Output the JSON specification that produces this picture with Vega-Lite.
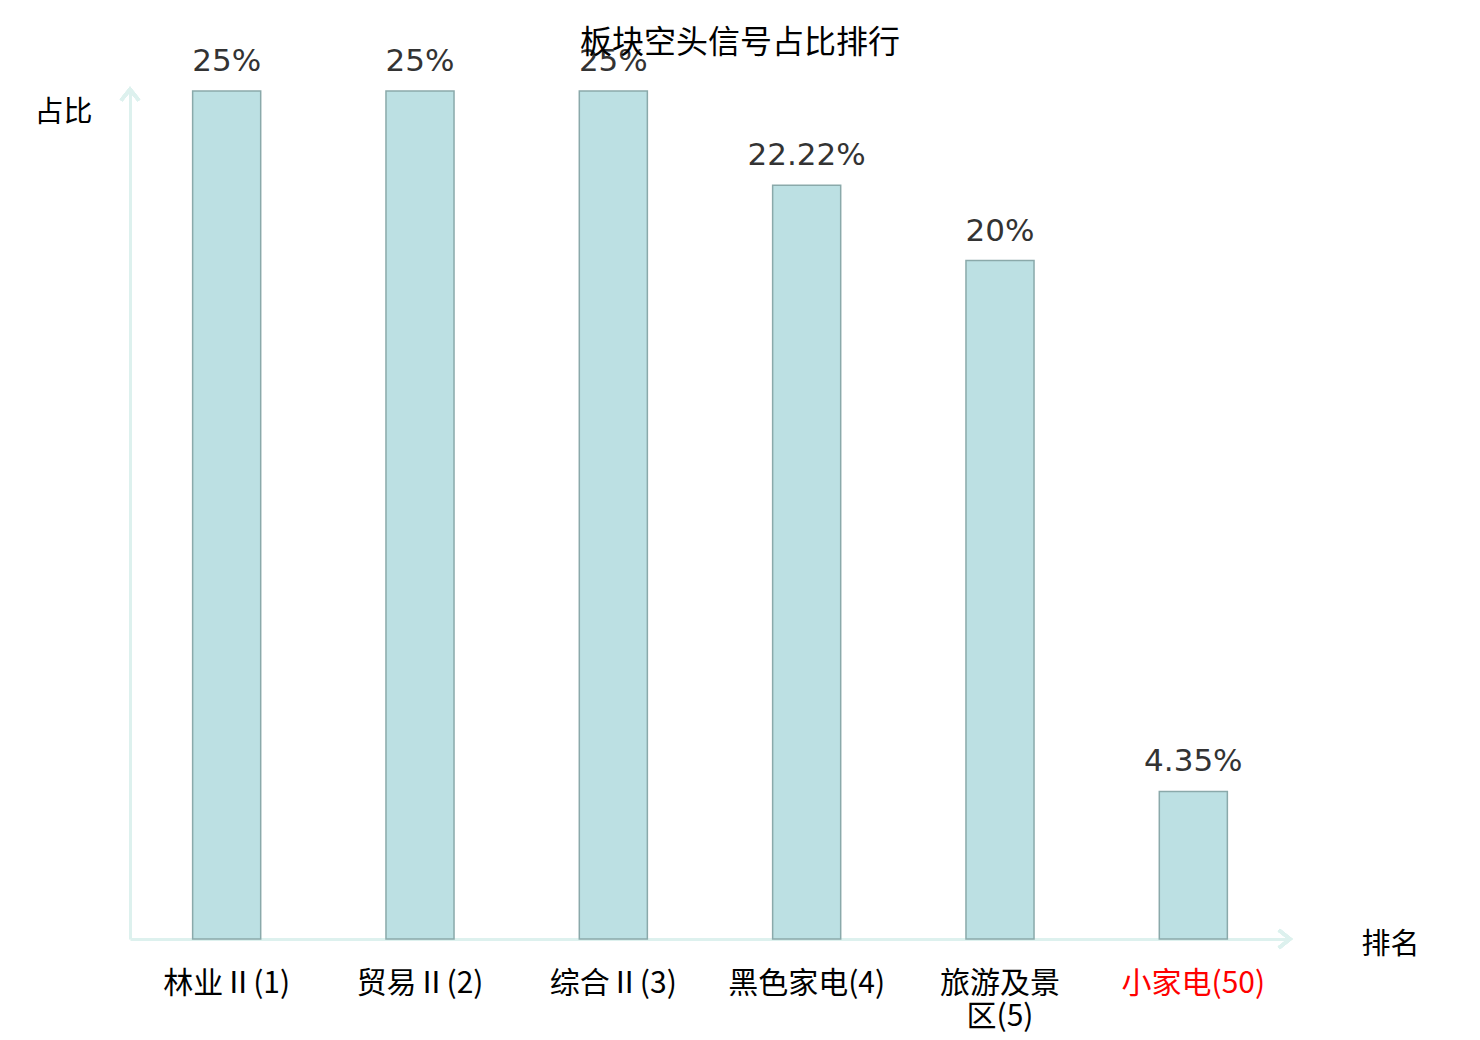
{
  "$schema": "https://vega.github.io/schema/vega-lite/v6.json",
  "autosize": "none",
  "width": 1160,
  "height": 848,
  "padding": {"left": 130, "top": 91, "right": 190, "bottom": 101},
  "background": "white",
  "config": {"view": {"stroke": null}},
  "title": {
    "text": "板块空头信号占比排行",
    "anchor": "middle",
    "dx": 30,
    "offset": -14,
    "font": "Noto Sans CJK SC",
    "fontSize": 32,
    "fontWeight": "normal",
    "color": "#000000"
  },
  "data": {
    "values": [
      {"name": "林业Ⅱ(1)", "value": 25, "text": "25%"},
      {"name": "贸易Ⅱ(2)", "value": 25, "text": "25%"},
      {"name": "综合Ⅱ(3)", "value": 25, "text": "25%"},
      {"name": "黑色家电(4)", "value": 22.22, "text": "22.22%"},
      {"name": "旅游及景区(5)", "value": 20, "text": "20%"},
      {"name": "小家电(50)", "value": 4.35, "text": "4.35%"}
    ]
  },
  "encoding": {
    "x": {
      "field": "name",
      "type": "nominal",
      "sort": null,
      "scale": {"paddingInner": 0.648, "paddingOuter": 0.324},
      "axis": {
        "title": "排名",
        "titleFont": "Noto Sans CJK SC",
        "titleFontSize": 29,
        "titleFontWeight": "normal",
        "titleColor": "#000000",
        "titleAngle": 0,
        "titleAlign": "left",
        "titleBaseline": "middle",
        "titleX": 1231,
        "titleY": 5,
        "labelAngle": 0,
        "labelFont": "Noto Sans CJK SC",
        "labelFontSize": 30,
        "labelLineHeight": 33,
        "labelPadding": 29,
        "labelExpr": "datum.label == '旅游及景区(5)' ? ['旅游及景', '区(5)'] : datum.label",
        "labelColor": {"expr": "datum.label == '小家电(50)' ? '#ff0000' : '#000000'"},
        "labelLimit": 400,
        "ticks": false,
        "domainColor": "#ddf1ee",
        "domainWidth": 3
      }
    },
    "y": {
      "field": "value",
      "type": "quantitative",
      "scale": {"domain": [0, 25], "nice": false},
      "axis": {
        "title": "占比",
        "titleFont": "Noto Sans CJK SC",
        "titleFontSize": 29,
        "titleFontWeight": "normal",
        "titleColor": "#000000",
        "titleAngle": 0,
        "titleAlign": "left",
        "titleBaseline": "middle",
        "titleX": -96,
        "titleY": 21,
        "labels": false,
        "ticks": false,
        "grid": false,
        "domainColor": "#ddf1ee",
        "domainWidth": 3
      }
    }
  },
  "layer": [
    {
      "mark": {"type": "bar", "fill": "#bce0e3", "stroke": "#8aa9aa", "strokeWidth": 1.5}
    },
    {
      "mark": {"type": "text", "baseline": "bottom", "dy": -13, "font": "DejaVu Sans", "fontSize": 31, "color": "#333333"},
      "encoding": {"text": {"field": "text"}}
    },
    {
      "mark": {"type": "point", "shape": "M-0.8,1L0,0L0.8,1", "size": 500, "filled": false, "stroke": "#ddf1ee", "strokeWidth": 3.5, "opacity": 1, "clip": false},
      "encoding": {
        "x": {"value": 0},
        "y": {"datum": 25.05}
      }
    },
    {
      "mark": {"type": "point", "shape": "M-1,-0.8L0,0L-1,0.8", "size": 500, "filled": false, "stroke": "#ddf1ee", "strokeWidth": 3.5, "opacity": 1, "clip": false},
      "encoding": {
        "x": {"value": 1160},
        "y": {"datum": 0}
      }
    }
  ]
}
